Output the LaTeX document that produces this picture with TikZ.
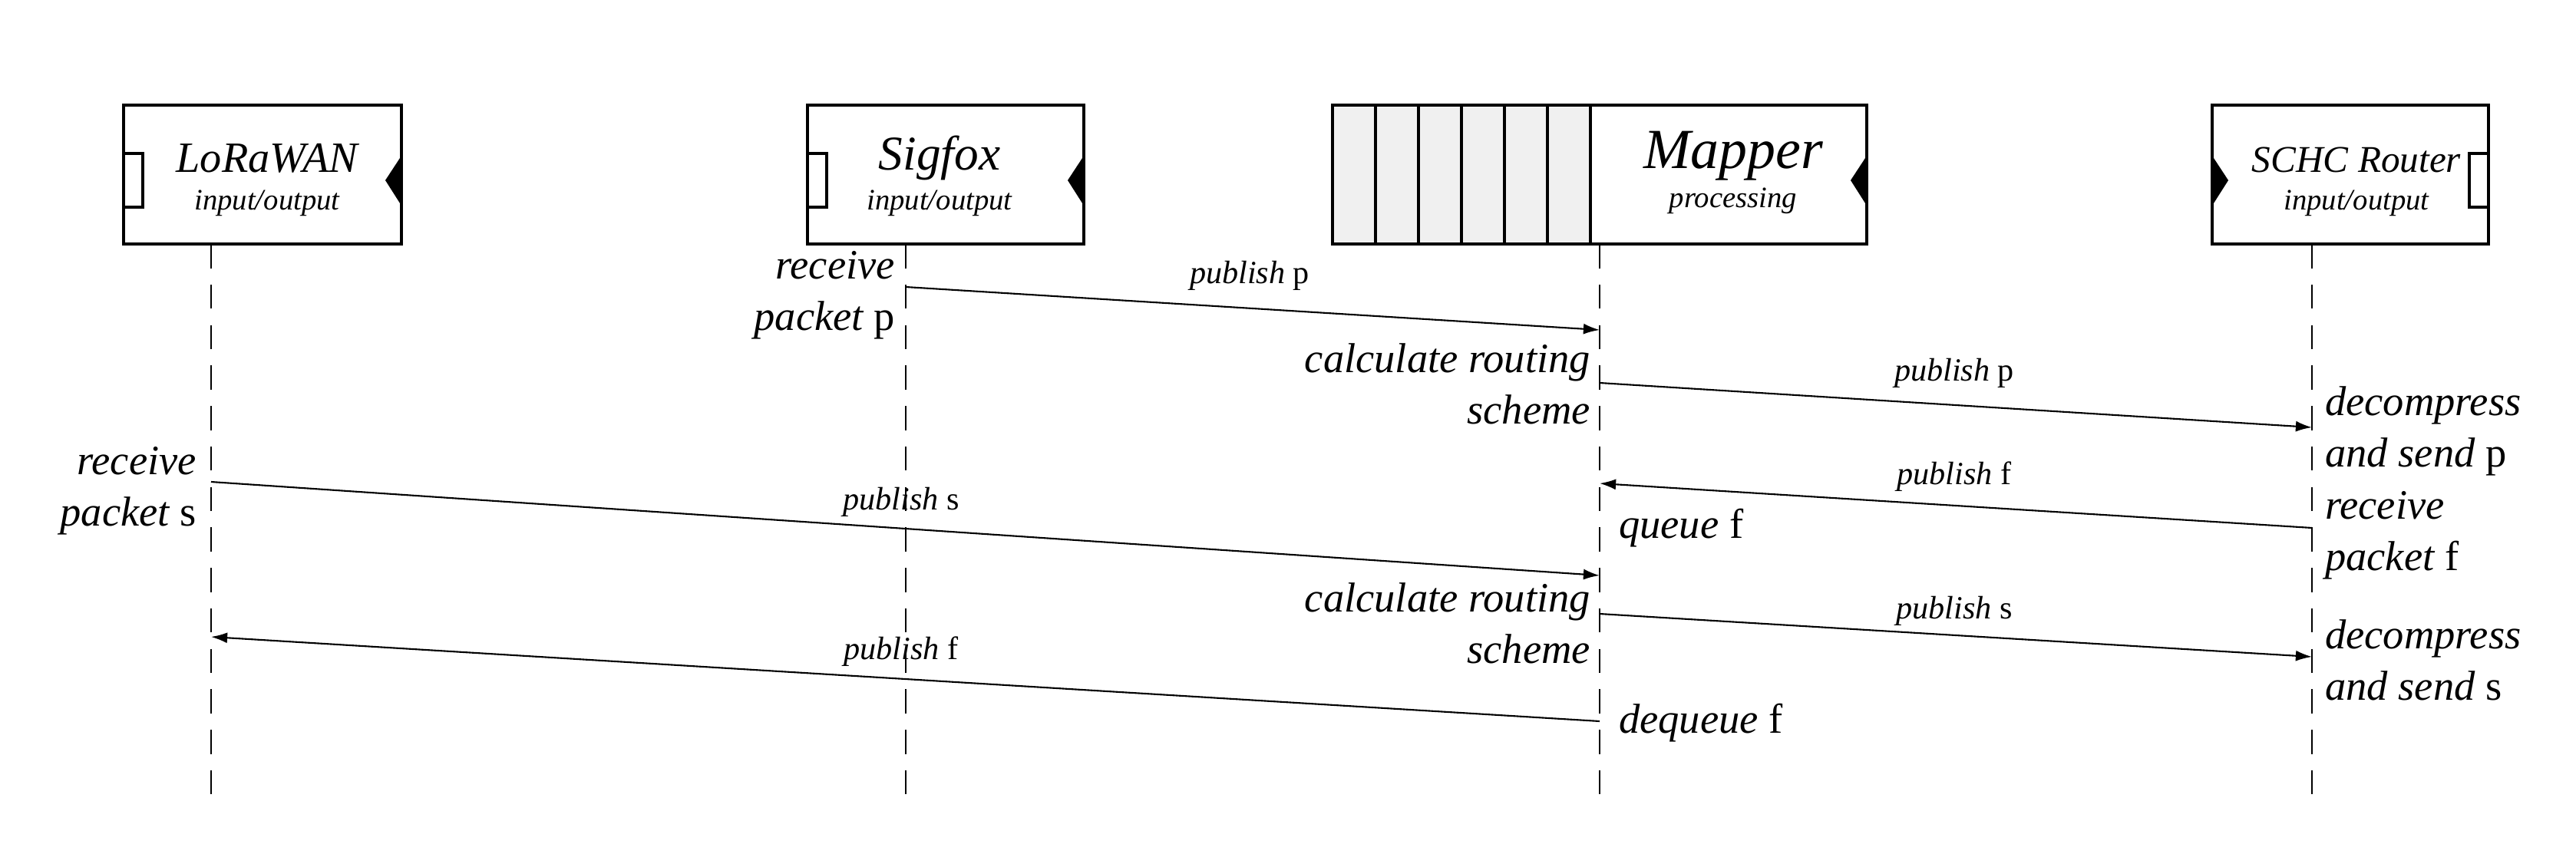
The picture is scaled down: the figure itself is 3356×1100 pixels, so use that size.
\documentclass[tikz,border=0pt]{standalone}
\usepackage{fontspec}
\setmainfont{Liberation Serif}
\usetikzlibrary{arrows.meta}
\begin{document}
\begin{tikzpicture}[x=0.01cm, y=-0.01cm,
    life/.style={dashed, dash pattern=on 9pt off 6pt, line width=0.7pt},
    msg/.style={line width=0.6pt, -{Latex[length=6pt,width=4pt]}},
    lbl/.style={font=\itshape\fontsize{15.5}{19}\selectfont, align=left, inner sep=1pt},
    pub/.style={font=\fontsize{12}{14}\selectfont, inner sep=1pt},
    sub/.style={font=\itshape\fontsize{11}{13}\selectfont}]
    \useasboundingbox (0,0) rectangle (3356,1100);

    % First, the boxes on top
        \draw[line width=0.9pt] (161,137) rectangle (523,318);
        \draw[line width=0.9pt] (1052,137) rectangle (1412,318);
        \draw[line width=0.9pt, fill=black!6] (1736,137) rectangle (2072,318);
        \foreach \i in {1,...,5} \draw[line width=0.9pt] (1736+56*\i,137) -- (1736+56*\i,318);
        \draw[line width=0.9pt] (2072,137) rectangle (2432,318);
        \draw[line width=0.9pt] (2882,137) rectangle (3242,318);

    % ports
        \draw[line width=0.9pt] (161,200) rectangle (186,270);
        \draw[line width=0.9pt] (1052,200) rectangle (1077,270);
        \draw[line width=0.9pt] (3217,200) rectangle (3242,270);
        \fill (523,203) -- (502,235) -- (523,268) -- cycle;
        \fill (1412,203) -- (1391,235) -- (1412,268) -- cycle;
        \fill (2432,203) -- (2411,235) -- (2432,268) -- cycle;
        \fill (2882,203) -- (2903,235) -- (2882,268) -- cycle;

    % names
        \node[font=\itshape\fontsize{16}{19}\selectfont] (lora) at (348,206) {LoRaWAN};
        \node[sub] at (348,265) {input/output};
        \node[font=\itshape\fontsize{18}{22}\selectfont] (sigfox) at (1224,206) {Sigfox};
        \node[sub] at (1224,265) {input/output};
        \node[font=\itshape\fontsize{21}{25}\selectfont] (mapper) at (2258,203) {Mapper};
        \node[sub] at (2258,262) {processing};
        \node[font=\itshape\fontsize{14}{17}\selectfont] (schc) at (3070,208) {SCHC Router};
        \node[sub] at (3070,265) {input/output};

    % lifelines
        \coordinate (l0) at (275,318);   \coordinate (l1) at (275,1047);
        \coordinate (s0) at (1180,318);  \coordinate (s1) at (1180,1047);
        \coordinate (m0) at (2084,318);  \coordinate (m1) at (2084,1047);
        \coordinate (r0) at (3012,318);  \coordinate (r1) at (3012,1047);
        \draw[life] (l0) -- (l1);
        \draw[life] (s0) -- (s1);
        \draw[life] (m0) -- (m1);
        \draw[life] (r0) -- (r1);

    % message end points
        \coordinate (a1) at (1180,374); \coordinate (b1) at (2084,430);
        \coordinate (a2) at (2084,499); \coordinate (b2) at (3012,557);
        \coordinate (a3) at (3012,688); \coordinate (b3) at (2084,630);
        \coordinate (a4) at (275,628);  \coordinate (b4) at (2084,750);
        \coordinate (a5) at (2084,800); \coordinate (b5) at (3012,856);
        \coordinate (a6) at (2084,940); \coordinate (b6) at (275,830);

    % Now draw the messages:
        \draw[msg] (a1) -- (b1);
        \draw[msg] (a2) -- (b2);
        \draw[msg] (a3) -- (b3);
        \draw[msg] (a4) -- (b4);
        \draw[msg] (a5) -- (b5);
        \draw[msg] (a6) -- (b6);
        \node[pub] (p1) at (1628,359) {\textit{publish} p};
        \node[pub] (p2) at (2546,486) {\textit{publish} p};
        \node[pub] (p3) at (2546,621) {\textit{publish} f};
        \node[pub] (p4) at (1174,654) {\textit{publish} s};
        \node[pub] (p5) at (2546,796) {\textit{publish} s};
        \node[pub] (p6) at (1174,849) {\textit{publish} f};

    % events
        \node[lbl, align=right, anchor=east] (recp) at (1170,385) {receive\\packet \upshape p};
        \node[lbl, align=right, anchor=east] (calc1) at (2076,500) {calculate routing\\scheme};
        \node[lbl, anchor=west] (decp) at (3025,562) {decompress\\and send \upshape p};
        \node[lbl, anchor=west] (recf) at (3025,698) {receive\\packet \upshape f};
        \node[lbl, anchor=west] (queue) at (2105,688) {queue \upshape f};
        \node[lbl, align=right, anchor=east] (recs) at (260,640) {receive\\packet \upshape s};
        \node[lbl, align=right, anchor=east] (calc2) at (2076,812) {calculate routing\\scheme};
        \node[lbl, anchor=west] (decs) at (3025,860) {decompress\\and send \upshape s};
        \node[lbl, anchor=west] (deq) at (2105,942) {dequeue \upshape f};
\end{tikzpicture}
\end{document}
